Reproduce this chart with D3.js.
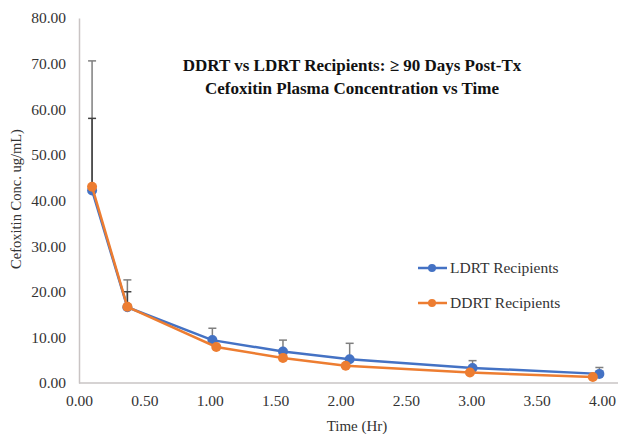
<!DOCTYPE html>
<html>
<head>
<meta charset="utf-8">
<script src="https://cdn.jsdelivr.net/npm/d3@7"></script>
<style>
  body { margin: 0; background: #fff; }
  svg text { font-family: "Times New Roman", "Liberation Serif", "DejaVu Serif", serif; }
</style>
</head>
<body>
<div id="chart"></div>
<script>
// chart data
const ldrtTime = [0.10, 0.37, 1.02, 1.56, 2.07, 3.01, 3.98]
const ldrtConc = [42.2, 16.6, 9.4, 6.9, 5.2, 3.3, 2.0]
const ldrtErr = [28.4, 6.0, 2.6, 2.5, 3.5, 1.6, 1.4]

const ddrtTime = [0.10, 0.37, 1.05, 1.56, 2.04, 2.99, 3.93]
const ddrtConc = [43.0, 16.7, 7.9, 5.5, 3.8, 2.3, 1.3]
const ddrtErr = [15.0, 3.3, 0, 0, 0, 0, 0]

const xTicks = [0, 0.5, 1, 1.5, 2, 2.5, 3, 3.5, 4]
const yTicks = [0, 10, 20, 30, 40, 50, 60, 70, 80]

const series = [
  { name: 'LDRT Recipients', color: '#4472c4', time: ldrtTime, conc: ldrtConc, err: ldrtErr, errColor: '#7f7f7f' },
  { name: 'DDRT Recipients', color: '#ed7d31', time: ddrtTime, conc: ddrtConc, err: ddrtErr, errColor: '#404040' }
]

const width = 628
const height = 434
const margin = { top: 18, right: 26, bottom: 51, left: 79 }

const svg = d3.select('#chart').append('svg')
  .attr('width', width)
  .attr('height', height)

const x = d3.scaleLinear().domain([0, 4]).range([margin.left, margin.left + 523])
const y = d3.scaleLinear().domain([0, 80]).range([height - margin.bottom, margin.top])

// axes
const xAxis = svg.append('g')
  .attr('transform', `translate(0,${y(0)})`)
  .call(d3.axisBottom(x).tickValues(xTicks).tickSize(0).tickPadding(12).tickFormat(d3.format('.2f')))
xAxis.attr('font-family', null)
xAxis.select('.domain').attr('stroke', '#c9c4c4').attr('stroke-width', 1.5)
  .attr('d', `M${margin.left},0H${width - 10}`)
xAxis.selectAll('text').attr('font-size', 15.5).attr('fill', '#333')

const yAxis = svg.append('g')
  .attr('transform', `translate(${margin.left},0)`)
  .call(d3.axisLeft(y).tickValues(yTicks).tickSize(0).tickPadding(13).tickFormat(d3.format('.2f')))
yAxis.attr('font-family', null)
yAxis.select('.domain').attr('stroke', '#c9c4c4').attr('stroke-width', 1.5)
yAxis.selectAll('text').attr('font-size', 15.5).attr('fill', '#333')

// error bars (upper only)
series.forEach(s => {
  const g = svg.append('g')
  s.time.forEach((t, i) => {
    if (!s.err[i]) return
    const top = y(s.conc[i] + s.err[i])
    g.append('line')
      .attr('x1', x(t)).attr('x2', x(t))
      .attr('y1', y(s.conc[i])).attr('y2', top)
      .attr('stroke', s.errColor).attr('stroke-width', 1.5)
    g.append('line')
      .attr('x1', x(t) - 4).attr('x2', x(t) + 4)
      .attr('y1', top).attr('y2', top)
      .attr('stroke', s.errColor).attr('stroke-width', 1.5)
  })
})

// series lines and markers
const line = d3.line().x(d => x(d[0])).y(d => y(d[1]))
series.forEach(s => {
  const pts = s.time.map((t, i) => [t, s.conc[i]])
  svg.append('path')
    .datum(pts)
    .attr('d', line)
    .attr('fill', 'none')
    .attr('stroke', s.color)
    .attr('stroke-width', 2.5)
  svg.append('g').selectAll('circle')
    .data(pts)
    .join('circle')
    .attr('cx', d => x(d[0]))
    .attr('cy', d => y(d[1]))
    .attr('r', 5)
    .attr('fill', s.color)
})

// title
const title = svg.append('text')
  .attr('text-anchor', 'middle')
  .attr('font-weight', 'bold')
  .attr('font-size', 17)
  .attr('fill', '#111')
title.append('tspan').attr('x', 352).attr('y', 71).text('DDRT vs LDRT Recipients: ≥ 90 Days Post-Tx')
title.append('tspan').attr('x', 352).attr('y', 94).text('Cefoxitin Plasma Concentration  vs Time')

// axis titles
svg.append('text')
  .attr('x', 357).attr('y', 431)
  .attr('text-anchor', 'middle')
  .attr('font-size', 15)
  .attr('fill', '#333')
  .text('Time (Hr)')

svg.append('text')
  .attr('transform', 'translate(21,199) rotate(-90)')
  .attr('text-anchor', 'middle')
  .attr('font-size', 14.5)
  .attr('fill', '#333')
  .text('Cefoxitin Conc. ug/mL)')

// legend
const legend = svg.append('g')
series.forEach((s, i) => {
  const ly = 268 + i * 35
  legend.append('line')
    .attr('x1', 418).attr('x2', 447)
    .attr('y1', ly).attr('y2', ly)
    .attr('stroke', s.color).attr('stroke-width', 2.5)
  legend.append('circle')
    .attr('cx', 432).attr('cy', ly).attr('r', 4)
    .attr('fill', s.color)
  legend.append('text')
    .attr('x', 450).attr('y', ly + 5)
    .attr('font-size', 15.5)
    .attr('fill', '#333')
    .text(s.name)
})
</script>
</body>
</html>
